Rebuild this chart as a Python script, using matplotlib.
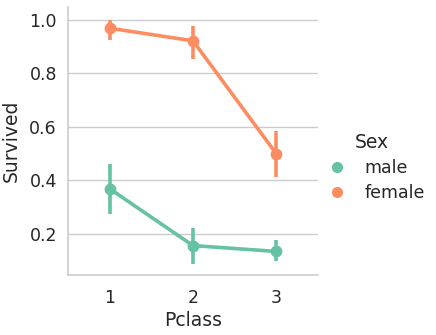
import matplotlib
matplotlib.use("Agg")
import matplotlib.pyplot as plt
from matplotlib.lines import Line2D

classes = ["1", "2", "3"]
sexes = ["male", "female"]
colors = {"male": "#66c2a5", "female": "#fc8d62"}

# mean survival rate and 95% CI bounds per class
means = {
    "male": [0.369, 0.157, 0.135],
    "female": [0.968, 0.921, 0.500],
}
ci_low = {
    "male": [0.276, 0.089, 0.101],
    "female": [0.923, 0.852, 0.412],
}
ci_high = {
    "male": [0.463, 0.222, 0.178],
    "female": [1.000, 0.976, 0.585],
}

plt.rcParams["font.family"] = "DejaVu Sans"
fig = plt.figure(figsize=(4.36, 3.35), dpi=100)
ax = fig.add_axes([0.156, 0.179, 0.573, 0.80])

x = list(range(len(classes)))
for s in sexes:
    c = colors[s]
    for xi, lo, hi in zip(x, ci_low[s], ci_high[s]):
        ax.plot([xi, xi], [lo, hi], color=c, lw=2.6, solid_capstyle="butt", zorder=2)
    ax.plot(x, means[s], color=c, lw=2.6, marker="o", ms=7.5, zorder=3)

ax.set_xlim(-0.5, 2.5)
ax.set_ylim(0.047, 1.047)
ax.set_xticks(x)
ax.set_xticklabels(classes)
ax.set_yticks([0.2, 0.4, 0.6, 0.8, 1.0])
ax.set_yticklabels(["0.2", "0.4", "0.6", "0.8", "1.0"])
ax.tick_params(length=0, labelsize=12.5, colors="#262626")
ax.tick_params(axis="x", pad=10)
ax.tick_params(axis="y", pad=8)
ax.yaxis.grid(True, color="#cccccc", lw=1)
ax.xaxis.grid(False)
ax.set_axisbelow(True)
for side in ["top", "right"]:
    ax.spines[side].set_visible(False)
for side in ["left", "bottom"]:
    ax.spines[side].set_color("#cccccc")
    ax.spines[side].set_linewidth(1.2)
ax.set_xlabel("Pclass", fontsize=13.5, color="#262626", labelpad=3)
ax.set_ylabel("Survived", fontsize=13.5, color="#262626", labelpad=6)

handles = [Line2D([], [], color=colors[s], marker="o", ls="", ms=7) for s in sexes]
leg = fig.legend(handles, sexes, title="Sex", loc="center left",
                 bbox_to_anchor=(0.697, 0.50), frameon=False, fontsize=12.5,
                 title_fontsize=13.5, handletextpad=0.6, labelspacing=0.4)
for t in leg.get_texts():
    t.set_color("#262626")
leg.get_title().set_color("#262626")

fig.savefig("out.png", dpi=100, facecolor="white")
